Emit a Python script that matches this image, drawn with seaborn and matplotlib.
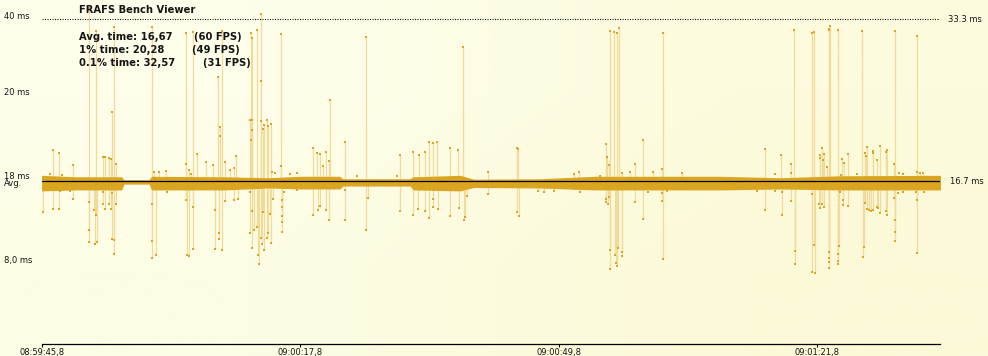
import numpy as np
import matplotlib
matplotlib.use("Agg")
import matplotlib.pyplot as plt
import matplotlib.transforms as mtransforms
from matplotlib.colors import to_rgb
import seaborn as sns

# ---------------- data ----------------
title = "FRAFS Bench Viewer"
stat_labels = ["Avg. time: 16,67", "1% time: 20,28", "0.1% time: 32,57"]
fps_labels = ["(60 FPS)", "(49 FPS)", "(31 FPS)"]
avg_ms = 16.67
ref_ms = 33.33
x_ticks_s = [0, 32, 64, 96]
x_tick_labels = ["08:59:45,8", "09:00:17,8", "09:00:49,8", "09:01:21,8"]
y_ticks_ms = [33.7, 25.85, 17.23, 16.6, 8.67]
y_tick_labels = ["40 ms", "20 ms", "18 ms", "Avg.", "8,0 ms"]
right_label_ms = [33.33, 16.67]
right_labels = ["33.3 ms", "16.7 ms"]

# envelope of the dense band of frame times around the average
band_t = [0.0, 4.1, 9.9, 10.2, 13.3, 13.6, 22.7, 28.0, 32.0, 36.9, 37.3, 45.6,
          46.0, 51.8, 53.5, 61.7, 68.5, 84.0, 91.4, 98.8, 111.4]
band_hi = [17.3, 17.15, 17.15, 16.85, 16.85, 17.2, 17.15, 17.05, 17.2, 17.2, 16.95, 16.95,
           17.15, 17.3, 16.9, 16.95, 17.2, 17.2, 17.05, 17.25, 17.3]
band_lo = [15.7, 15.8, 15.8, 16.4, 16.4, 15.8, 15.8, 16.0, 15.9, 15.9, 16.2, 16.2,
           15.8, 15.7, 16.05, 16.0, 15.8, 15.8, 15.9, 15.8, 15.8]

# frames just outside the band edges (time s, frame time ms)
edge_t = [1.0, 2.5, 0.4, 2.3, 3.5, 7.6, 8.7, 28.5, 28.9, 30.7, 31.6, 39.0, 44.0,
          30.0, 31.6, 37.5, 75.0, 77.4, 88.5, 90.8, 106.0, 106.6, 108.2, 109.2,
          92.7, 99.0, 100.9, 106.1, 106.6]
edge_ms = [17.4, 17.3, 15.8, 15.7, 15.7, 15.6, 15.5, 17.6, 17.5, 17.4, 17.5, 17.2, 17.2,
           15.6, 15.8, 15.8, 15.6, 15.7, 15.7, 17.4, 15.5, 15.6, 15.6, 15.6,
           17.5, 17.3, 17.4, 17.5, 17.4]

# individual frames away from the band (time s, frame time ms)
spike_t = [
    0.2, 1.4, 1.4, 2.2, 2.2, 3.9, 3.9,
    5.9, 5.9, 5.9, 5.9,
    6.5, 6.7, 6.7, 6.6, 6.9,
    7.6, 7.6, 7.9, 7.9, 8.3, 8.3, 8.6, 8.6,
    8.7, 8.7, 8.9, 8.9, 8.9, 9.2, 9.2,
    13.7, 13.7, 13.7, 13.7, 14.2,
    13.9, 14.5, 15.4, 15.5,
    17.9, 17.9, 17.9, 18.0, 18.2, 18.2, 18.5, 18.7, 18.7, 18.8, 19.2,
    20.3, 21.2, 21.5, 21.5, 21.8, 21.9, 21.9, 22.1, 22.1, 22.3, 22.3,
    22.7, 23.3, 23.8, 24.1, 22.7, 23.8, 24.3,
    25.9, 26.0, 25.8, 26.1, 25.9, 26.1,
    26.7, 27.1, 27.1, 27.1, 27.4, 27.5, 27.9, 28.0, 28.4,
    29.6, 29.6,
    33.6, 34.1, 34.5, 34.8, 35.2, 35.6, 35.7, 37.6, 40.2, 44.4,
    25.8, 25.8, 26.0, 26.3, 26.1, 26.7, 26.8, 26.9, 27.1, 27.3, 27.5, 27.4, 27.9, 28.0,
    28.4, 28.3, 28.7, 29.7, 29.7, 29.7, 29.7, 29.7,
    33.6, 34.2, 34.5, 35.2, 35.6, 37.6, 40.2, 40.4, 44.4,
    46.0, 46.7, 47.4, 47.9, 48.5, 49.0, 50.6, 51.6, 52.2, 55.2, 58.8, 59.0, 65.9, 66.5,
    46.0, 46.6, 47.5, 47.9, 48.5, 48.5, 49.1, 50.6, 51.7, 52.3, 52.4, 52.6, 55.2, 58.8,
    59.1, 61.5, 62.2, 63.4, 65.0, 65.9, 66.6,
    69.1, 69.8, 70.0, 70.2, 70.4, 70.9, 71.2, 71.5, 71.9, 72.8, 73.4, 74.4, 75.7, 76.9,
    76.8, 79.3, 89.5,
    69.8, 69.8, 70.1, 70.2, 70.4, 70.4, 71.0, 71.1, 71.2, 71.3, 71.8, 71.8, 73.4, 74.4,
    76.8, 76.8, 76.9, 89.6,
    91.5, 92.7, 93.1, 95.4, 95.6, 96.3, 96.3, 96.6, 96.7, 96.9, 97.2, 97.4, 97.5, 97.6,
    98.6, 99.1, 99.3, 99.8, 101.6, 101.9, 102.1, 102.2, 102.9, 102.9, 103.4, 103.8, 104.5,
    104.7, 105.6, 105.5, 108.3, 108.3, 108.7, 109.1,
    90.8, 91.6, 91.6, 92.7, 93.3, 93.3, 95.4, 95.4, 95.7, 95.6, 96.2, 96.3, 96.6, 96.9,
    97.4, 97.5, 97.5, 97.4, 98.7, 98.6, 98.6, 98.6, 98.8, 99.2, 99.2, 99.8, 101.8, 101.7,
    101.9, 102.2, 102.4, 102.7, 102.9, 103.4, 103.5, 103.8, 104.5, 104.7, 105.6, 105.6,
    105.6, 105.5, 108.4, 108.4,
]
spike_ms = [
    13.5, 19.9, 13.8, 19.6, 13.8, 18.4, 14.9,
    34.5, 14.6, 11.7, 10.5,
    13.7, 32.1, 13.2, 10.3, 10.5,
    19.2, 14.4, 19.2, 13.8, 19.1, 14.4, 19.0, 13.8,
    23.8, 10.8, 32.5, 10.7, 9.2, 18.5, 14.4,
    32.5, 14.4, 10.6, 8.85, 9.1,
    17.6, 17.6, 17.7, 15.6,
    31.9, 18.5, 14.8, 9.1, 9.0, 17.8, 17.4, 32.0, 9.7, 14.1, 19.5,
    18.7, 18.4, 13.7, 9.7, 27.4, 11.4, 10.8, 22.3, 21.3, 32.1, 9.6,
    18.7, 17.8, 18.1, 19.3, 14.7, 14.8, 14.9,
    31.9, 31.4, 23.0, 23.0, 20.9, 21.9,
    32.2, 33.8, 27.0, 22.9, 22.0, 22.5, 23.0, 22.4, 22.6,
    31.8, 18.3,
    20.1, 19.6, 19.5, 18.3, 19.7, 18.8, 25.0, 20.7, 31.5, 19.4,
    15.6, 11.4, 9.85, 11.7, 13.6, 12.0, 9.1, 8.2, 10.9, 10.3, 9.6, 13.5, 10.9, 11.4,
    10.4, 13.3, 14.9, 14.8, 14.0, 13.1, 12.5, 11.5,
    13.2, 13.7, 14.2, 13.7, 12.7, 12.7, 11.7, 15.0, 13.6,
    19.7, 19.4, 19.7, 20.7, 20.6, 20.7, 20.1, 19.9, 30.5, 17.6, 20.1, 20.0, 17.4, 17.6,
    13.2, 13.8, 13.6, 12.9, 14.1, 14.9, 13.8, 13.1, 13.9, 12.7, 13.0, 15.2, 15.4, 13.5,
    13.1, 15.7, 15.6, 15.7, 16.0, 15.9, 15.6,
    17.2, 20.5, 19.2, 18.4, 32.1, 32.0, 31.9, 32.4, 17.5, 17.6, 18.5, 20.9, 17.6, 31.9,
    17.9, 17.5, 20.0,
    14.9, 14.6, 14.4, 15.1, 9.6, 7.7, 9.1, 8.3, 8.0, 9.8, 9.4, 9.0, 14.6, 12.8,
    15.5, 14.7, 8.7, 13.7,
    19.4, 18.5, 32.2, 31.9, 32.0, 19.1, 19.4, 20.1, 18.9, 19.5, 18.2, 32.2, 32.3, 32.6,
    32.2, 19.0, 18.6, 19.5, 32.1, 19.6, 19.3, 20.2, 19.8, 19.6, 18.9, 20.3, 19.7,
    19.9, 32.1, 18.5, 31.6, 17.6, 17.5, 17.5,
    15.7, 15.6, 13.2, 14.7, 9.5, 8.2, 15.4, 7.4, 7.3, 10.2, 14.4, 13.9, 14.4, 14.1,
    9.4, 8.8, 8.4, 7.8, 10.0, 9.2, 8.5, 8.2, 15.6, 14.8, 14.3, 14.2, 9.9, 8.95,
    14.5, 13.8, 13.7, 13.6, 13.7, 14.1, 13.9, 13.4, 13.6, 13.2, 12.7, 11.5,
    10.6, 15.0, 14.8, 9.3,
]

# ---------------- style ----------------
sns.set_theme(style="white")
plt.rcParams["font.family"] = ["DejaVu Sans"]
BG = "#FDFCE1"
GOLD = "#DAA520"
LIGHT = "#F1DB9A"
TXT = "#151515"

W, H = 988, 356
fig = plt.figure(figsize=(W / 100, H / 100), dpi=100, facecolor=BG)

# soft yellow gradient background
bg = fig.add_axes([0, 0, 1, 1], zorder=-10)
c_tl, c_tr = np.array(to_rgb("#FEFEEB")), np.array(to_rgb("#FCFBDD"))
c_bl, c_br = np.array(to_rgb("#FDFDE5")), np.array(to_rgb("#FBF9D7"))
grad = np.array([[c_tl, c_tr], [c_bl, c_br]])
bg.imshow(grad, extent=[0, 1, 0, 1], aspect="auto", interpolation="bilinear", origin="upper")
bg.set_axis_off()

ax_left, ax_right, ax_bottom = 41.6, 940.0, 344.0
ax = fig.add_axes([ax_left / W, (H - ax_bottom) / H, (ax_right - ax_left) / W, ax_bottom / H])
ax.set_facecolor("none")

# vertical connectors of the outlying frames
ax.vlines(spike_t, avg_ms, spike_ms, colors=LIGHT, linewidth=0.9, zorder=1)
# dense band
ax.fill_between(band_t, band_lo, band_hi, color=GOLD, linewidth=0, zorder=2)
# reference lines
ax.axhline(avg_ms, color="black", linewidth=0.9, zorder=3)
ax.axhline(ref_ms, xmax=0.999, color="black", linewidth=0.75, linestyle=(0, (1, 1.4)), zorder=3)
# frame markers
sns.scatterplot(x=spike_t, y=spike_ms, marker="s", s=3.6, linewidth=0, color=GOLD,
                ax=ax, zorder=4, legend=False)
sns.scatterplot(x=edge_t, y=edge_ms, marker="s", s=3.6, linewidth=0, color=GOLD,
                ax=ax, zorder=4, legend=False)

ax.set_xlim(0, 111.2)
ax.set_ylim(0, 35.28)
for side in ["left", "right", "top"]:
    ax.spines[side].set_visible(False)
ax.spines["bottom"].set_color("black")
ax.spines["bottom"].set_linewidth(0.9)

ax.set_xticks(x_ticks_s)
ax.set_xticklabels(x_tick_labels, fontsize=6, color=TXT)
ax.tick_params(axis="x", direction="out", length=2.5, width=0.8, color="black", pad=0.3, bottom=True)

ax.set_yticks(y_ticks_ms)
ax.set_yticklabels(y_tick_labels, fontsize=6, color=TXT)
ax.tick_params(axis="y", length=0, pad=(ax_left - 4) * 0.72, left=False)
for lab in ax.get_yticklabels():
    lab.set_horizontalalignment("left")
ax.set_xlabel("")
ax.set_ylabel("")
ax.grid(False)

trans = mtransforms.blended_transform_factory(ax.transAxes, ax.transData)
for v, lab, xp in zip(right_label_ms, right_labels, [948, 950]):
    ax.text((xp - ax_left) / (ax_right - ax_left), v, lab, transform=trans, fontsize=6,
            color=TXT, ha="left", va="center", clip_on=False)

fig.text(79 / W, 1 - 10 / H, title, fontsize=7.2, fontweight="bold", color=TXT,
         ha="left", va="center")
for i, (s, f, fx) in enumerate(zip(stat_labels, fps_labels, [194, 192, 203])):
    yy = 1 - (36.5 + 13.3 * i) / H
    fig.text(79 / W, yy, s, fontsize=7.2, fontweight="bold", color=TXT, ha="left", va="center")
    fig.text(fx / W, yy, f, fontsize=7.2, fontweight="bold", color=TXT, ha="left", va="center")

fig.savefig("out.png", dpi=100)
